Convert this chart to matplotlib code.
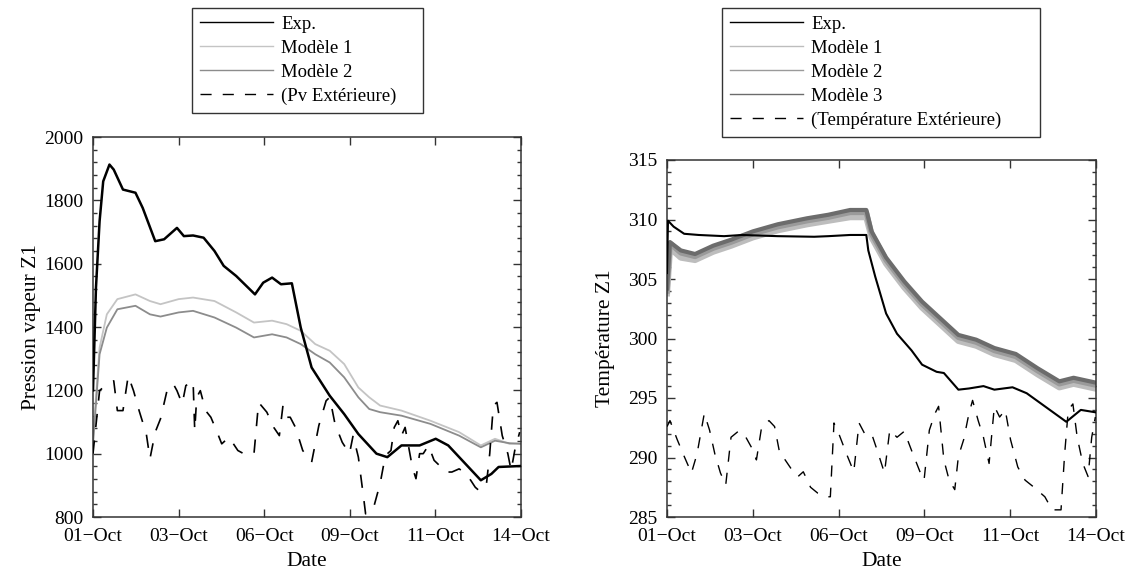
import matplotlib
matplotlib.use("Agg")
import matplotlib.pyplot as plt
import numpy as np
from matplotlib.ticker import MultipleLocator

plt.rcParams["font.family"] = ["Liberation Serif", "DejaVu Serif"]
plt.rcParams["font.size"] = 14

# x axis: days since 01-Oct
date_ticks = np.linspace(0, 13, 6)
date_labels = ["01\u2212Oct", "03\u2212Oct", "06\u2212Oct", "09\u2212Oct", "11\u2212Oct", "14\u2212Oct"]

# ---- left panel: vapour pressure ----
pv_exp_day = [0.0, 0.09, 0.20, 0.31, 0.50, 0.63, 0.91, 1.29, 1.51, 1.89, 2.16, 2.55, 2.76, 3.04,
              3.36, 3.69, 3.97, 4.35, 4.92, 5.17, 5.44, 5.71, 6.04, 6.31, 6.64, 7.19, 7.63, 8.06,
              8.61, 8.94, 9.37, 9.92, 10.41, 10.79, 11.78, 12.10, 12.32, 12.98]
pv_exp = [1200, 1524, 1734, 1860, 1913, 1897, 1834, 1824, 1776, 1671, 1677, 1713, 1687, 1689,
          1682, 1640, 1593, 1561, 1503, 1540, 1556, 1535, 1538, 1398, 1272, 1183, 1125, 1062,
          1000, 989, 1026, 1026, 1047, 1026, 916, 936, 958, 961]

pv_mod_day = [0.0, 0.20, 0.42, 0.74, 1.29, 1.73, 2.05, 2.60, 3.04, 3.69, 4.35, 4.89, 5.44, 5.88,
              6.31, 6.75, 7.19, 7.63, 8.06, 8.39, 8.72, 9.37, 10.25, 11.12, 11.78, 12.21, 12.65, 13.0]
pv_mod1 = [1050, 1335, 1440, 1488, 1503, 1482, 1472, 1488, 1493, 1482, 1446, 1414, 1420, 1409,
           1388, 1346, 1325, 1283, 1209, 1178, 1152, 1136, 1104, 1068, 1026, 1047, 1031, 1033]
pv_mod2 = [1030, 1314, 1398, 1456, 1467, 1440, 1433, 1446, 1451, 1430, 1398, 1367, 1377, 1367,
           1346, 1314, 1288, 1241, 1178, 1141, 1131, 1120, 1094, 1057, 1020, 1041, 1033, 1031]

pv_ext_day = [0.0, 0.20, 0.42, 0.63, 0.74, 0.91, 1.07, 1.23, 1.40, 1.62, 1.73, 1.89, 2.05, 2.27,
              2.44, 2.55, 2.71, 2.82, 3.04, 3.09, 3.15, 3.26, 3.42, 3.58, 3.75, 3.91, 4.13, 4.40,
              4.68, 4.89, 5.03, 5.28, 5.49, 5.66, 5.77, 5.88, 5.99, 6.15, 6.37, 6.64, 6.86, 7.08,
              7.19, 7.35, 7.57, 7.79, 7.90, 8.06, 8.23, 8.28, 8.50, 8.72, 8.88, 9.05, 9.15, 9.26,
              9.37, 9.48, 9.70, 9.81, 9.92, 10.03, 10.19, 10.36, 10.52, 10.68, 10.90, 11.12, 11.34,
              11.61, 11.72, 11.94, 12.05, 12.16, 12.27, 12.43, 12.60, 12.70, 12.81, 12.96]
pv_ext = [1000, 1199, 1220, 1230, 1136, 1136, 1246, 1199, 1136, 1062, 984, 1068, 1110, 1209,
          1220, 1199, 1157, 1215, 1230, 1073, 1178, 1199, 1136, 1115, 1073, 1031, 1052, 1010,
          994, 1000, 1162, 1131, 1083, 1057, 1152, 1115, 1115, 1083, 1010, 973, 1089, 1167,
          1178, 1094, 1036, 1000, 1057, 989, 852, 810, 821, 905, 994, 1010, 1083, 1104,
          1057, 1083, 957, 921, 1000, 1000, 1026, 979, 963, 942, 942, 952, 937,
          894, 884, 894, 1000, 1152, 1162, 1057, 1000, 947, 1010, 1068]

# ---- right panel: temperature ----
t_exp_day = [0.0, 0.03, 0.20, 0.52, 0.96, 1.73, 2.27, 3.36, 4.46, 4.89, 5.55, 6.04, 6.10, 6.31,
             6.64, 6.97, 7.41, 7.73, 8.17, 8.39, 8.61, 8.83, 9.15, 9.59, 9.92, 10.47, 10.90,
             11.45, 12.10, 12.54, 12.98]
t_exp = [305.5, 309.9, 309.4, 308.8, 308.7, 308.6, 308.7, 308.6, 308.55, 308.6, 308.7, 308.7,
         307.4, 305.2, 302.1, 300.4, 299.0, 297.8, 297.2, 297.1, 296.4, 295.7, 295.8, 296.0,
         295.7, 295.9, 295.4, 294.3, 293.0, 294.0, 293.8]

t_mod_day = [0.0, 0.09, 0.42, 0.85, 1.40, 1.94, 2.60, 3.36, 4.24, 4.89, 5.55, 6.04, 6.20, 6.64,
             7.19, 7.73, 8.28, 8.83, 9.37, 9.92, 10.57, 11.23, 11.89, 12.32, 12.98]
t_mod1 = [303.8, 307.6, 306.8, 306.6, 307.3, 307.8, 308.5, 309.1, 309.6, 309.9, 310.2, 310.2,
          308.5, 306.3, 304.3, 302.6, 301.2, 299.8, 299.4, 298.7, 298.2, 297.0, 295.9, 296.2, 295.8]
t_mod2 = [304.0, 308.0, 307.2, 306.9, 307.6, 308.1, 308.8, 309.4, 309.9, 310.2, 310.6, 310.6,
          308.8, 306.6, 304.6, 302.9, 301.5, 300.1, 299.7, 299.0, 298.5, 297.3, 296.2, 296.5, 296.1]
t_mod3 = [304.2, 308.1, 307.4, 307.1, 307.8, 308.3, 309.0, 309.6, 310.1, 310.4, 310.8, 310.8,
          309.0, 306.8, 304.8, 303.1, 301.7, 300.3, 299.9, 299.2, 298.7, 297.5, 296.4, 296.7, 296.3]

t_ext_day = [0.0, 0.09, 0.31, 0.52, 0.74, 0.91, 1.13, 1.29, 1.45, 1.62, 1.78, 1.94, 2.16, 2.33,
             2.55, 2.71, 2.87, 3.09, 3.26, 3.42, 3.58, 3.80, 3.97, 4.13, 4.35, 4.57, 4.84, 4.95,
             5.06, 5.22, 5.44, 5.66, 5.82, 5.99, 6.20, 6.37, 6.59, 6.75, 6.97, 7.19, 7.41, 7.68,
             7.79, 7.95, 8.12, 8.23, 8.39, 8.55, 8.72, 8.83, 8.99, 9.15, 9.26, 9.43, 9.59, 9.76,
             9.92, 10.08, 10.25, 10.41, 10.63, 10.85, 11.12, 11.45, 11.67, 11.94, 12.05, 12.16,
             12.30, 12.43, 12.60, 12.76, 12.87, 12.98]
t_ext = [292.6, 293.1, 291.5, 290.1, 288.7, 290.3, 293.7, 292.3, 290.3, 288.7, 287.7, 291.7,
         292.2, 292.0, 290.9, 289.8, 292.6, 293.1, 292.6, 290.3, 289.8, 288.9, 288.4, 288.8,
         287.5, 287.0, 286.7, 286.7, 292.9, 291.9, 290.3, 288.8, 292.9, 292.0, 292.0, 290.6,
         288.7, 292.3, 291.7, 292.2, 290.6, 288.7, 288.1, 292.3, 293.7, 294.3, 289.8, 288.1,
         287.3, 290.1, 291.5, 293.7, 294.8, 293.1, 291.7, 289.5, 294.3, 293.4, 294.0, 291.5,
         289.2, 288.1, 287.5, 286.7, 285.6, 285.6, 290.3, 294.0, 294.5, 291.7, 289.5, 288.4,
         291.7, 293.4]

W, H = 1126, 573
fig = plt.figure(figsize=(W / 100, H / 100), dpi=100)
ax1 = fig.add_axes([93 / W, 1 - 517 / H, 428 / W, 380 / H])
ax2 = fig.add_axes([667 / W, 1 - 517 / H, 429 / W, 357 / H])

dash = (0, (8, 8))

ax1.plot(pv_mod_day, pv_mod1, color="#c4c4c4", lw=1.3, label="Mod\u00e8le 1", zorder=2)
ax1.plot(pv_mod_day, pv_mod2, color="#8c8c8c", lw=1.3, label="Mod\u00e8le 2", zorder=2)
ax1.plot(pv_ext_day, pv_ext, color="black", lw=1.2, ls=dash, label="(Pv Ext\u00e9rieure)", zorder=3)
ax1.plot(pv_exp_day, pv_exp, color="black", lw=1.8, label="Exp.", zorder=4)
ax1.set_ylim(800, 2000)
ax1.yaxis.set_major_locator(MultipleLocator(200))
ax1.yaxis.set_minor_locator(MultipleLocator(40))
ax1.set_ylabel("Pression vapeur Z1", fontsize=15.5, labelpad=2)

ax2.plot(t_mod_day, t_mod1, color="#bdbdbd", lw=4.5, label="Mod\u00e8le 1", zorder=2)
ax2.plot(t_mod_day, t_mod2, color="#9a9a9a", lw=4.0, label="Mod\u00e8le 2", zorder=2)
ax2.plot(t_mod_day, t_mod3, color="#6c6c6c", lw=3.0, label="Mod\u00e8le 3", zorder=2)
ax2.plot(t_ext_day, t_ext, color="black", lw=1.0, ls=dash, label="(Temp\u00e9rature Ext\u00e9rieure)", zorder=3)
ax2.plot(t_exp_day, t_exp, color="black", lw=1.5, label="Exp.", zorder=4)
ax2.set_ylim(285, 315)
ax2.yaxis.set_major_locator(MultipleLocator(5))
ax2.yaxis.set_minor_locator(MultipleLocator(1))
ax2.set_ylabel("Temp\u00e9rature Z1", fontsize=15.5, labelpad=9)

for ax in (ax1, ax2):
    ax.set_xlim(0, 13)
    ax.set_xticks(date_ticks)
    ax.set_xticklabels(date_labels)
    ax.set_xlabel("Date", fontsize=15.5, labelpad=5)
    ax.tick_params(which="both", direction="in", top=True, right=True, color="#333333")
    ax.tick_params(which="major", length=6, width=1.0)
    ax.tick_params(which="minor", length=3, width=1.0)
    ax.tick_params(axis="y", pad=7)
    ax.tick_params(axis="x", pad=8)
    for s in ax.spines.values():
        s.set_color("#333333")
        s.set_linewidth(1.1)

legend_kw = dict(loc="upper left", mode="expand", bbox_transform=fig.transFigure, fancybox=False,
                 framealpha=1, edgecolor="#333333", borderaxespad=0, fontsize=13.5,
                 handlelength=3.9, handletextpad=0.45, labelspacing=0.36, borderpad=0.42)
top = 1 - 8 / H

# legends, keep the reference order
h1 = {l.get_label(): l for l in ax1.get_lines()}
order1 = ["Exp.", "Mod\u00e8le 1", "Mod\u00e8le 2", "(Pv Ext\u00e9rieure)"]
leg1 = ax1.legend([h1[k] for k in order1], order1,
                  bbox_to_anchor=(192 / W, top - 0.3, 231 / W, 0.3), **legend_kw)
leg1.get_frame().set_linewidth(1.0)
for ln in leg1.get_lines():
    ln.set_linewidth(1.0)

h2 = {l.get_label(): l for l in ax2.get_lines()}
order2 = ["Exp.", "Mod\u00e8le 1", "Mod\u00e8le 2", "Mod\u00e8le 3", "(Temp\u00e9rature Ext\u00e9rieure)"]
leg2 = ax2.legend([h2[k] for k in order2], order2,
                  bbox_to_anchor=(722 / W, top - 0.3, 318 / W, 0.3), **legend_kw)
leg2.get_frame().set_linewidth(1.0)
for ln in leg2.get_lines():
    ln.set_linewidth(1.0)

fig.savefig("out.png", dpi=100)
